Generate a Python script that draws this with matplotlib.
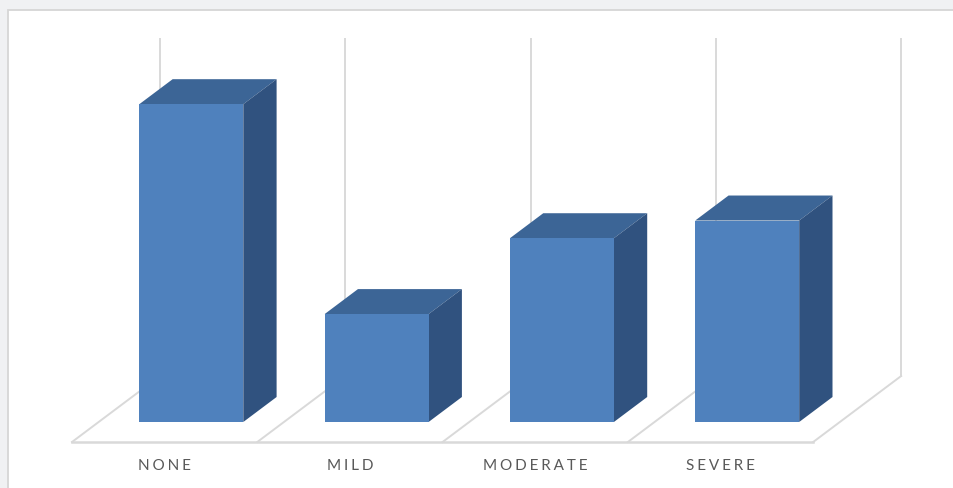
import matplotlib
matplotlib.use("Agg")
import matplotlib.pyplot as plt  # noqa: E402
from matplotlib.patches import Polygon, Rectangle  # noqa: E402

categories = ["NONE", "MILD", "MODERATE", "SEVERE"]
values = [37.7, 12.8, 21.8, 23.9]
wall_top = 40

FRONT = "#4f81bd"
TOP = "#3c6596"
SIDE = "#30527f"
GRID = "#d9d9d9"
LABEL = "#595959"

W, H = 954, 488
PX_X = 185.3      # px por categoría
PX_Y = 8.43       # px por unidad de valor
X0, Y0 = 191.3, 66  # px de la categoría 0 / valor 0 (desde izquierda / abajo)
SLANT = 1.333     # px horizontales por px vertical de profundidad
BW = 0.561        # ancho de barra (categorías)
BAR_D = 25        # profundidad de barra (px)
FLOOR_FRONT, FLOOR_BACK = -20, 46


def pt(x, v, d):
    """punto (categoría, valor) desplazado d px en profundidad"""
    return (x + d * SLANT / PX_X, v + d / PX_Y)


fig = plt.figure(figsize=(W / 100, H / 100), dpi=100, facecolor="#f0f1f3")
fig.patches.append(Rectangle((8 / W, -0.05), 1.0, 1 - 10 / H + 0.05,
                             transform=fig.transFigure, facecolor="white",
                             edgecolor="#d6d6d6", lw=1.3, zorder=-5))

ax = fig.add_axes([0, 0, 1, 1])
ax.set_zorder(2)
ax.set_xlim(-X0 / PX_X, (W - X0) / PX_X)
ax.set_ylim(-Y0 / PX_Y, (H - Y0) / PX_Y)
ax.axis("off")
ax.patch.set_alpha(0)

n = len(categories)
bounds = [i - 0.5 for i in range(n + 1)]

# pared del fondo y suelo
for b in bounds:
    ax.plot(*zip(pt(b, 0, FLOOR_BACK), pt(b, wall_top, FLOOR_BACK)), color=GRID, lw=1.4, zorder=1)
    ax.plot(*zip(pt(b, 0, FLOOR_FRONT), pt(b, 0, FLOOR_BACK)), color=GRID, lw=1.4, zorder=1)
ax.plot(*zip(pt(bounds[0], 0, FLOOR_FRONT), pt(bounds[-1], 0, FLOOR_FRONT)), color=GRID, lw=1.8, zorder=1)

# barras 3D
ax.bar(range(n), values, width=BW, color=FRONT, lw=0, zorder=4)
for i, v in enumerate(values):
    l, r = i - BW / 2, i + BW / 2
    ax.add_patch(Polygon([pt(l, v, 0), pt(r, v, 0), pt(r, v, BAR_D), pt(l, v, BAR_D)],
                         closed=True, facecolor=TOP, lw=0, zorder=3))
    ax.add_patch(Polygon([pt(r, 0, 0), pt(r, v, 0), pt(r, v, BAR_D), pt(r, 0, BAR_D)],
                         closed=True, facecolor=SIDE, lw=0, zorder=3))

for i, c in enumerate(categories):
    x, y = pt(i, 0, FLOOR_FRONT)
    ax.text(x, y - 24 / PX_Y, "\u2009\u200a".join(c), ha="center", va="center",
            fontsize=11, color=LABEL, family=["Lato", "DejaVu Sans"])

fig.savefig("out.png", dpi=100, facecolor=fig.get_facecolor())
